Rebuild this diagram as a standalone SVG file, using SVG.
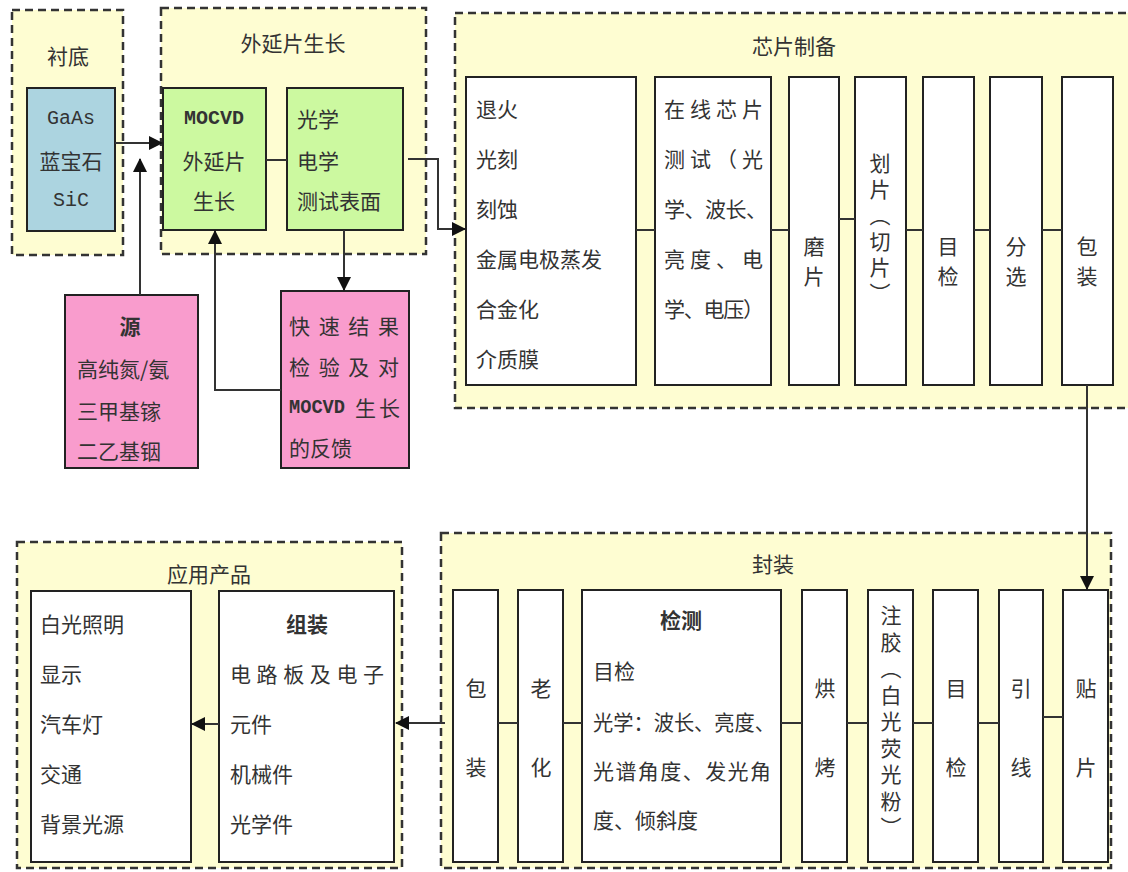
<svg xmlns="http://www.w3.org/2000/svg" width="1128" height="872" viewBox="0 0 1128 872">
<style>
.grp{fill:#fefdd2;stroke:#333;stroke-width:2.5;stroke-dasharray:8 5}
.box{stroke:#222;stroke-width:2}
.w{fill:#fff}
.blue{fill:#acd4e0}
.green{fill:#ccf9a0}
.pink{fill:#f99ccd}
text{font-family:"Noto Sans CJK SC","Liberation Sans",sans-serif;font-size:21px;fill:#333;dominant-baseline:central}
.mono{font-family:"Liberation Mono","Noto Sans CJK SC",monospace;font-size:20px}
.c{text-anchor:middle}
.b{font-weight:bold}
.v{writing-mode:vertical-rl;text-anchor:start}
.ln{stroke:#333;stroke-width:2;fill:none}
</style>
<defs>
<marker id="ah" markerUnits="userSpaceOnUse" markerWidth="14" markerHeight="14" refX="13" refY="7" orient="auto">
<path d="M0,0 L14,7 L0,14 z" fill="#111"/>
</marker>
</defs>

<g id="g-substrate">
<rect class="grp" x="12" y="10" width="111" height="245"/>
<text class="c" x="68" y="55">衬底</text>
</g>
<g id="g-epi">
<rect class="grp" x="161" y="8" width="265" height="246"/>
<text class="c" x="293" y="42">外延片生长</text>
</g>
<g id="g-chip">
<rect class="grp" x="455" y="13" width="690" height="395"/>
<text class="c" x="794" y="45">芯片制备</text>
</g>
<g id="g-app">
<rect class="grp" x="17" y="542" width="385" height="326"/>
<text class="c" x="209" y="573">应用产品</text>
</g>
<g id="g-pack">
<rect class="grp" x="441" y="533" width="670" height="335"/>
<text class="c" x="773" y="563">封装</text>
</g>

<g id="n-substrate">
<rect class="box blue" x="27" y="88" width="88" height="143"/>
<text class="mono c" x="71" y="118">GaAs</text>
<text class="c" x="71" y="160">蓝宝石</text>
<text class="mono c" x="71" y="200">SiC</text>
</g>
<g id="n-mocvd">
<rect class="box green" x="163" y="88" width="103" height="142"/>
<text class="mono c b" x="214" y="118">MOCVD</text>
<text class="c" x="214" y="160">外延片</text>
<text class="c" x="214" y="200">生长</text>
</g>
<g id="n-test">
<rect class="box green" x="287" y="88" width="116" height="142"/>
<text x="297" y="118">光学</text>
<text x="297" y="160">电学</text>
<text x="297" y="200">测试表面</text>
</g>
<g id="n-source">
<rect class="box pink" x="65" y="295" width="133" height="173"/>
<text class="c b" x="130" y="325">源</text>
<text x="77" y="368">高纯氮/氨</text>
<text x="77" y="410">三甲基镓</text>
<text x="77" y="450">二乙基铟</text>
</g>
<g id="n-feedback">
<rect class="box pink" x="281" y="291" width="128" height="177"/>
<text x="289" y="325" textLength="110" lengthAdjust="spacing">快速结果</text>
<text x="289" y="366" textLength="110" lengthAdjust="spacing">检验及对</text>
<text class="mono b" x="289" y="407" textLength="56" lengthAdjust="spacingAndGlyphs">MOCVD</text>
<text x="355" y="407" textLength="45" lengthAdjust="spacing">生长</text>
<text x="289" y="447">的反馈</text>
</g>

<g id="n-chip1">
<rect class="box w" x="466" y="77" width="170" height="308"/>
<text x="476" y="108">退火</text>
<text x="476" y="158">光刻</text>
<text x="476" y="208">刻蚀</text>
<text x="476" y="258">金属电极蒸发</text>
<text x="476" y="308">合金化</text>
<text x="476" y="358">介质膜</text>
</g>
<g id="n-chip2">
<rect class="box w" x="655" y="77" width="116" height="308"/>
<text x="664" y="108" textLength="99" lengthAdjust="spacing">在线芯片</text>
<text x="664" y="158" textLength="99" lengthAdjust="spacing">测试（光</text>
<text x="664" y="208" textLength="103" lengthAdjust="spacing">学、波长、</text>
<text x="664" y="258" textLength="99" lengthAdjust="spacing">亮度、电</text>
<text x="664" y="308" textLength="100" lengthAdjust="spacing">学、电压）</text>
</g>
<g id="n-chip3">
<rect class="box w" x="789" y="77" width="50" height="308"/>
<text class="c" x="814" y="245">磨</text>
<text class="c" x="814" y="275">片</text>
</g>
<g id="n-chip4">
<rect class="box w" x="855" y="77" width="51" height="308"/>
<text class="v" x="880" y="153" letter-spacing="5">划片（切片）</text>
</g>
<g id="n-chip5">
<rect class="box w" x="923" y="77" width="51" height="308"/>
<text class="c" x="948" y="245">目</text>
<text class="c" x="948" y="275">检</text>
</g>
<g id="n-chip6">
<rect class="box w" x="990" y="77" width="52" height="308"/>
<text class="c" x="1016" y="245">分</text>
<text class="c" x="1016" y="275">选</text>
</g>
<g id="n-chip7">
<rect class="box w" x="1062" y="77" width="51" height="308"/>
<text class="c" x="1087" y="245">包</text>
<text class="c" x="1087" y="275">装</text>
</g>

<g id="n-pk-bao">
<rect class="box w" x="453" y="590" width="45" height="272"/>
<text class="c" x="476" y="687">包</text>
<text class="c" x="476" y="766">装</text>
</g>
<g id="n-pk-lao">
<rect class="box w" x="518" y="590" width="45" height="272"/>
<text class="c" x="541" y="687">老</text>
<text class="c" x="541" y="766">化</text>
</g>
<g id="n-pk-jc">
<rect class="box w" x="582" y="590" width="199" height="272"/>
<text class="c b" x="681" y="619">检测</text>
<text x="593" y="670">目检</text>
<text x="593" y="721" textLength="182" lengthAdjust="spacingAndGlyphs">光学：波长、亮度、</text>
<text x="593" y="770" textLength="178" lengthAdjust="spacing">光谱角度、发光角</text>
<text x="593" y="819">度、倾斜度</text>
</g>
<g id="n-pk-hk">
<rect class="box w" x="802" y="590" width="45" height="272"/>
<text class="c" x="825" y="687">烘</text>
<text class="c" x="825" y="766">烤</text>
</g>
<g id="n-pk-zj">
<rect class="box w" x="868" y="590" width="45" height="272"/>
<text class="v" x="891" y="605" letter-spacing="5.5">注胶（白光荧光粉）</text>
</g>
<g id="n-pk-mj">
<rect class="box w" x="933" y="590" width="45" height="272"/>
<text class="c" x="956" y="687">目</text>
<text class="c" x="956" y="766">检</text>
</g>
<g id="n-pk-yx">
<rect class="box w" x="999" y="590" width="44" height="272"/>
<text class="c" x="1021" y="687">引</text>
<text class="c" x="1021" y="766">线</text>
</g>
<g id="n-pk-tp">
<rect class="box w" x="1063" y="590" width="45" height="272"/>
<text class="c" x="1086" y="687">贴</text>
<text class="c" x="1086" y="766">片</text>
</g>

<g id="n-assembly">
<rect class="box w" x="219" y="591" width="175" height="271"/>
<text class="c b" x="307" y="623">组装</text>
<text x="230" y="673" textLength="154" lengthAdjust="spacing">电路板及电子</text>
<text x="230" y="723">元件</text>
<text x="230" y="773">机械件</text>
<text x="230" y="823">光学件</text>
</g>
<g id="n-products">
<rect class="box w" x="31" y="591" width="160" height="271"/>
<text x="40" y="623">白光照明</text>
<text x="40" y="673">显示</text>
<text x="40" y="723">汽车灯</text>
<text x="40" y="773">交通</text>
<text x="40" y="823">背景光源</text>
</g>

<g id="connectors">
<line class="ln" x1="115" y1="143" x2="162" y2="143" marker-end="url(#ah)"/>
<line class="ln" x1="140" y1="295" x2="140" y2="159" marker-end="url(#ah)"/>
<line class="ln" x1="266" y1="160" x2="287" y2="160"/>
<polyline class="ln" points="281,390 215,390 215,231" marker-end="url(#ah)"/>
<line class="ln" x1="344" y1="230" x2="344" y2="290" marker-end="url(#ah)"/>
<polyline class="ln" points="408,159 438,159 438,229 465,229" marker-end="url(#ah)"/>
<line class="ln" x1="636" y1="230" x2="655" y2="230"/>
<line class="ln" x1="771" y1="230" x2="789" y2="230"/>
<line class="ln" x1="839" y1="219" x2="855" y2="219"/>
<line class="ln" x1="906" y1="230" x2="923" y2="230"/>
<line class="ln" x1="974" y1="230" x2="990" y2="230"/>
<line class="ln" x1="1042" y1="230" x2="1062" y2="230"/>
<line class="ln" x1="1087" y1="385" x2="1087" y2="589" marker-end="url(#ah)"/>
<line class="ln" x1="1043" y1="717" x2="1063" y2="717"/>
<line class="ln" x1="978" y1="723" x2="999" y2="723"/>
<line class="ln" x1="913" y1="723" x2="933" y2="723"/>
<line class="ln" x1="847" y1="723" x2="868" y2="723"/>
<line class="ln" x1="781" y1="723" x2="802" y2="723"/>
<line class="ln" x1="563" y1="723" x2="582" y2="723"/>
<line class="ln" x1="498" y1="723" x2="518" y2="723"/>
<line class="ln" x1="445" y1="723" x2="396" y2="723" marker-end="url(#ah)"/>
<line class="ln" x1="219" y1="724" x2="192" y2="724" marker-end="url(#ah)"/>
</g>
</svg>
